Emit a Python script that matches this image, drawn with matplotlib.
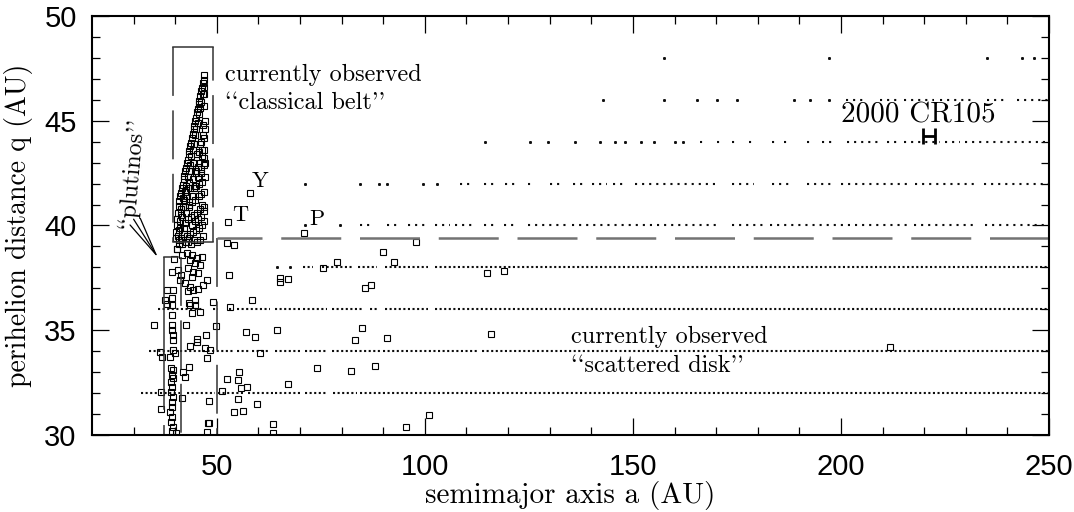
import matplotlib
matplotlib.use('Agg')
import matplotlib.pyplot as plt
import numpy as np

###########################
# DATA
###########################
# dotted bands of simulated particles: q level -> runs (a_start, a_end) and single dots
BAND_RUNS = {
    32: [(31.8, 35.9), (36.3, 41.2), (42.8, 49.6), (50.3, 56.8), (57.5, 63.5), (64.0, 70.0),
         (71.2, 76.5), (77.9, 83.6), (84.4, 250)],
    34: [(33.7, 40.7), (41.2, 53.9), (54.9, 58.0), (58.5, 62.8), (64.0, 70.0), (71.2, 76.5),
         (77.7, 89.2), (90.0, 112.5), (113.7, 250)],
    36: [(35.9, 46.7), (49.0, 50.3), (53.0, 54.2), (54.9, 62.8), (64.0, 70.0), (70.7, 76.5),
         (77.7, 85.2), (86.8, 88.8), (90.4, 100.8), (102.4, 250)],
    38: [(70.7, 73.1), (75.3, 82.8), (84.0, 88.4), (90.4, 100.8), (102.4, 250)],
    40: [(84.4, 87.6), (90.8, 94.0), (96.0, 100.0), (102.4, 106.0), (107.2, 111.6), (114.1, 117.3),
         (118.9, 122.5), (124.9, 134.1), (135.3, 171.0), (173.8, 181.4), (183.0, 216.7),
         (217.5, 232.7), (234.7, 250)],
    42: [(108.4, 111.3), (114.1, 117.3), (119.3, 122.1), (124.9, 125.7), (130.1, 132.5),
         (135.7, 138.1), (140.1, 143.7), (145.3, 148.1), (150.5, 171.0), (173.8, 179.0),
         (183.4, 187.8), (191.8, 197.8), (199.9, 216.7), (217.9, 231.9), (234.3, 250)],
    44: [(166.2, 167.8), (170.2, 171.0), (173.8, 175.0), (177.8, 179.4), (183.4, 185.0),
         (186.2, 187.8), (191.8, 193.4), (195.4, 198.3), (201.5, 209.5), (211.1, 214.3),
         (215.1, 223.9), (225.1, 228.7), (229.9, 250)],
    46: [(201.1, 206.3), (209.5, 214.3), (215.1, 222.3), (223.9, 231.9), (235.1, 239.1), (242.3, 250)],
}
BAND_DOTS = {
    38: [64.5, 67.7],
    40: [71.2, 79.6],
    42: [71.2, 84.4, 89.0, 90.8, 99.6, 102.8],
    44: [114.5, 125.3, 129.6, 136.1, 142.1, 145.7, 148.1, 152.0, 155.0, 160.0, 162.0],
    46: [142.8, 157.5, 165.5, 170.2, 175.0, 188.6, 192.6, 197.1],
    48: [157.5, 197.1, 235.1, 243.5, 246.3],
}

# observed objects (open squares)
classical_a = [47.0, 46.8, 46.6, 46.4, 46.2, 46.0, 45.8, 45.6, 45.4, 45.2, 45.0, 44.8, 44.6, 44.4,
               44.2, 44.0, 43.8, 43.6, 43.4, 43.2, 43.0, 42.8, 42.6, 42.4, 42.2, 42.0, 41.8, 41.6,
               41.4, 41.2, 41.0, 40.8, 40.6, 40.5, 40.4, 40.3, 40.2,
               46.9, 46.6, 46.3, 46.0, 45.7, 45.4, 45.1, 44.8, 44.5, 44.2, 43.9, 43.6, 43.3, 43.0,
               42.7, 42.4, 42.1, 41.8, 41.5, 41.2, 40.9, 40.7,
               47.0, 46.8, 47.1, 46.6, 46.9, 46.3, 47.0, 46.5, 45.8, 46.8, 46.2, 45.5, 44.9, 47.1,
               46.5, 45.8, 45.1, 44.4, 47.0, 46.3, 45.6, 44.8, 44.1, 43.4, 46.8, 46.0, 45.3, 44.5,
               43.8, 43.1, 42.4, 47.0, 46.4, 45.7, 44.9, 44.2, 43.5, 42.8, 42.0, 46.7, 46.0, 45.3,
               44.5, 43.8, 43.1, 41.6, 41.0, 40.5, 47.2, 47.2, 46.4,
               41.3, 41.9, 42.5, 43.2, 43.9, 44.6, 45.3, 46.0, 46.6,
               41.1, 41.7, 42.3, 42.9, 43.6, 44.3, 45.0, 45.7, 46.4,
               41.4, 42.0, 42.6, 43.3, 44.0, 44.7, 45.4, 46.1, 46.9,
               42.5, 43.3, 44.1, 44.8, 45.5, 46.2, 46.9]
classical_q = [47.2, 46.95, 46.8, 46.55, 46.4, 46.2, 45.95, 45.8, 45.55, 45.4, 45.15, 45.0, 44.75, 44.6,
               44.35, 44.2, 43.95, 43.8, 43.55, 43.4, 43.15, 43.0, 42.75, 42.6, 42.35, 42.2, 41.95, 41.8,
               41.55, 41.4, 41.15, 40.95, 40.6, 40.3, 40.0, 39.7, 39.4,
               46.6, 46.3, 45.9, 45.6, 45.3, 44.9, 44.6, 44.3, 43.9, 43.6, 43.3, 42.9, 42.6, 42.3,
               41.9, 41.6, 41.2, 40.9, 40.5, 40.2, 39.8, 39.5,
               46.3, 45.7, 45.0, 44.8, 44.2, 44.0, 43.6, 43.3, 43.5, 42.9, 42.7, 42.8, 42.5, 42.3,
               42.1, 42.0, 41.9, 41.8, 41.6, 41.5, 41.4, 41.2, 41.1, 41.0, 40.9, 40.8, 40.6, 40.5,
               40.4, 40.3, 40.1, 40.2, 40.0, 39.9, 39.8, 39.7, 39.6, 39.5, 39.6, 39.5, 39.3, 39.2,
               39.3, 39.1, 39.2, 39.1, 39.3, 38.9, 44.6, 43.0, 41.0,
               40.8, 41.3, 41.7, 42.1, 42.6, 43.0, 43.4, 43.9, 44.3,
               39.9, 40.4, 40.9, 41.4, 41.8, 42.2, 42.6, 43.0, 43.6,
               39.4, 39.9, 40.6, 40.9, 41.4, 41.9, 42.3, 42.5, 43.2,
               39.2, 39.4, 40.0, 40.2, 40.3, 40.4, 40.7]

inner_a = [40.4, 42.8, 43.96, 45.16, 46.36, 43.56, 44.76, 45.96, 43.16, 44.36, 45.56, 43.96, 39.15,
           40.75, 41.3, 41.15, 42.35, 43.56, 47.7, 46.76, 45.56, 44.36, 43.16, 37.95, 39.4, 37.55,
           39.15, 37.95, 39.15, 39.3, 39.15, 43.2, 44.76, 43.56, 44.76, 43.96, 45.96, 49.2, 35.0,
           42.6, 49.8, 39.15, 39.55, 39.4, 45.16, 45.16, 47.3, 43.56, 47.16, 48.36, 36.35, 36.75,
           38.75, 39.95, 39.55, 47.56, 38.9, 39.4, 39.2, 39.5, 38.9, 39.3, 39.1, 39.5, 39.2, 39.3,
           38.8, 39.3, 39.1, 39.5, 39.3, 41.95, 42.35, 43.4, 36.5, 41.7, 36.5, 48.2, 47.96, 40.2,
           47.7, 39.6, 40.9, 41.6]
inner_q = [38.9, 38.67, 38.59, 38.43, 38.51, 38.36, 38.2, 38.12, 37.96, 37.8, 37.72, 37.56, 37.8,
           37.88, 37.64, 37.4, 37.24, 37.08, 37.4, 37.16, 36.96, 36.92, 36.89, 36.92, 36.92, 36.45,
           36.53, 36.26, 36.21, 35.73, 35.25, 36.32, 36.45, 36.21, 36.21, 35.81, 35.89, 36.37, 35.25,
           35.25, 35.2, 35.01, 34.78, 34.54, 34.58, 34.46, 34.78, 34.25, 34.14, 34.06, 33.98, 33.74,
           33.74, 33.93, 34.06, 33.66, 33.18, 33.1, 32.87, 32.71, 32.55, 32.31, 32.07, 31.83, 31.59,
           31.35, 31.12, 30.88, 30.64, 30.4, 30.2, 33.03, 32.79, 33.26, 32.07, 31.75, 31.23, 31.6,
           30.56, 30.1, 30.13, 38.4, 39.1, 38.6]

scattered_a = [52.4, 54.2, 53.0, 65.2, 67.2, 65.2, 71.0, 79.0, 75.4, 58.4, 53.2, 57.0, 59.2, 64.4,
               60.4, 74.0, 82.2, 55.3, 52.4, 55.2, 55.7, 57.2, 51.2, 67.0, 55.2, 59.7, 54.2, 56.2,
               48.0, 63.6, 63.6, 83.1, 97.8, 90.0, 92.7, 115.0, 119.0, 85.6, 87.1, 84.8, 91.0,
               115.9, 87.9, 95.5, 101.0, 211.8, 52.7, 58.0]
scattered_q = [39.15, 39.07, 37.64, 37.5, 37.45, 37.3, 39.63, 38.24, 37.99, 36.44, 36.13, 34.9, 34.66,
               35.0, 33.9, 33.2, 33.07, 32.99, 32.66, 32.63, 32.26, 32.31, 32.1, 32.42, 31.7, 31.5,
               31.08, 31.16, 30.57, 30.53, 30.08, 34.54, 39.23, 38.72, 38.24, 37.72, 37.84, 37.0,
               37.14, 35.09, 34.61, 34.8, 33.29, 30.38, 30.94, 34.2, 40.17, 41.55]

cr105_a, cr105_q = 221.2, 44.25

###########################
# PLOT
###########################
SERIF = 'cmr10'
fig = plt.figure(figsize=(10.74, 5.12), dpi=100)
ax = fig.add_axes([92 / 1074, 77 / 512, 957 / 1074, 419 / 512])
ax.set_xlim(20, 250)
ax.set_ylim(30, 50)

dark = '0.05'
for q, runs in BAND_RUNS.items():
    starts = [r[0] for r in runs]
    ends = [r[1] for r in runs]
    pattern = (0, (1, 1.2)) if q <= 38 else (0, (1, 2.4))
    ax.hlines([q] * len(runs), starts, ends, colors=dark, linewidth=1.5, linestyles=[pattern])
for q, dots in BAND_DOTS.items():
    ax.plot(dots, [q] * len(dots), 's', ms=1.1, color=dark, lw=0)

sq = dict(marker='s', ms=4, mfc='none', mec='k', mew=0.8, lw=0)
ax.plot(classical_a, classical_q, **sq)
ax.plot(inner_a, inner_q, **sq)
ax.plot(scattered_a, scattered_q, **sq)

ax.errorbar([cr105_a], [cr105_q], xerr=[1.4], fmt='none', ecolor='k', elinewidth=2,
            capsize=6, capthick=2)

# region boundaries
box_kw = dict(color='0.2', lw=1.1)
dash = (0, (32, 9.5))
ax.plot([39.5, 49.1], [48.5, 48.5], **box_kw)
ax.plot([39.5, 39.5], [48.5, 39.2], linestyle=dash, **box_kw)
ax.plot([49.1, 49.1], [48.5, 39.2], linestyle=(10, (32, 9.5)), **box_kw)
ax.plot([39.5, 49.1], [39.2, 39.2], **box_kw)
ax.plot([37.3, 40.7], [38.5, 38.5], **box_kw)
ax.plot([37.3, 37.3], [38.5, 30], linestyle=(0, (100, 10)), **box_kw)
ax.plot([41.4, 41.4], [38.5, 30], linestyle=dash, **box_kw)
ax.plot([50, 50], [39.4, 30], linestyle=dash, **box_kw)
ax.plot([50, 250], [39.4, 39.4], color='0.45', lw=1.8, linestyle=(6, (24, 7.5)))

# labels
tfs = 17.5
ax.text(52.0, 47.2, 'currently observed', family=SERIF, fontsize=tfs, va='center')
ax.text(52.0, 45.85, "``classical belt''", family=SERIF, fontsize=tfs, va='center')
ax.text(135.1, 34.68, 'currently observed', family=SERIF, fontsize=tfs, va='center')
ax.text(135.1, 33.3, "``scattered disk''", family=SERIF, fontsize=tfs, va='center')
ax.text(200.0, 45.27, '2000 CR105', family=SERIF, fontsize=21, va='center')
ax.text(60.4, 42.1, 'Y', family=SERIF, fontsize=16, ha='center', va='center')
ax.text(55.6, 40.5, 'T', family=SERIF, fontsize=16, ha='center', va='center')
ax.text(74.0, 40.3, 'P', family=SERIF, fontsize=16, ha='center', va='center')
ax.text(29.6, 42.5, "``plutinos''", family=SERIF, fontsize=tfs, ha='center', va='center',
        rotation=85)
ax.annotate('', xy=(35.9, 38.45), xytext=(30.0, 40.3),
            arrowprops=dict(arrowstyle='->,head_length=1.6,head_width=0.25', color='k', lw=0.9,
                            shrinkA=0, shrinkB=0), fontsize=tfs)

# axes styling
ax.set_xticks([50, 100, 150, 200, 250])
ax.set_xticks(np.arange(30, 250, 10), minor=True)
ax.set_yticks([30, 35, 40, 45, 50])
ax.set_yticks(np.arange(31, 50, 1), minor=True)
ax.tick_params(which='both', direction='in', top=True, right=True, width=0.9,
               labelsize=21)
ax.tick_params(which='major', length=12)
ax.tick_params(which='minor', length=6)
ax.tick_params(axis='x', which='major', pad=13)
ax.tick_params(axis='y', which='major', pad=11)
for lab in ax.get_xticklabels() + ax.get_yticklabels():
    lab.set_family('Liberation Sans')
for s in ax.spines.values():
    s.set_linewidth(1.5)

ax.set_xlabel('semimajor axis a (AU)', family=SERIF, fontsize=21, labelpad=0)
ax.set_ylabel('perihelion distance q (AU)', family=SERIF, fontsize=20, labelpad=8)

fig.savefig('out.png', dpi=100)
